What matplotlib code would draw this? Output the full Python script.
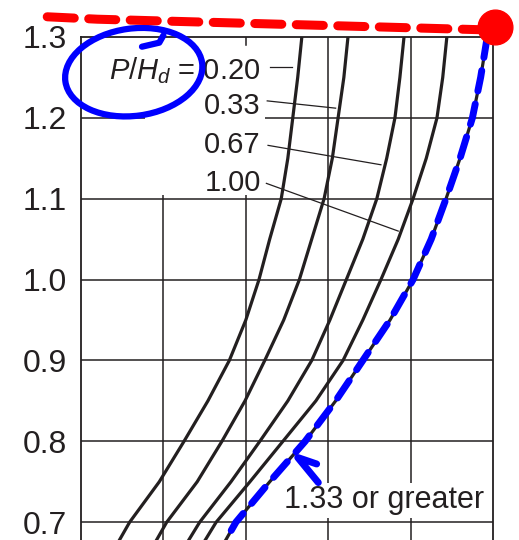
import matplotlib
matplotlib.use("Agg")
import matplotlib.pyplot as plt
from matplotlib.patches import Ellipse, Rectangle

plt.rcParams['font.family'] = ['Liberation Sans', 'DejaVu Sans']
plt.rcParams['mathtext.fontset'] = 'custom'
plt.rcParams['mathtext.it'] = 'Liberation Sans:italic'
plt.rcParams['mathtext.rm'] = 'Liberation Sans'

# Head ratio He/Hd (y) and discharge coefficient C (x)
head_ratio = [1.30, 1.25, 1.20, 1.15, 1.10, 1.05, 1.00, 0.95, 0.90, 0.85, 0.80, 0.75, 0.70, 0.675]

c_020 = [3.868, 3.863, 3.857, 3.851, 3.843, 3.829, 3.816, 3.800, 3.780, 3.754, 3.725, 3.695, 3.659, 3.645]
c_033 = [3.924, 3.919, 3.912, 3.905, 3.895, 3.880, 3.865, 3.846, 3.823, 3.799, 3.771, 3.741, 3.704, 3.690]
c_067 = [3.992, 3.987, 3.981, 3.971, 3.959, 3.942, 3.922, 3.902, 3.880, 3.851, 3.817, 3.782, 3.744, 3.729]
c_100 = [4.044, 4.039, 4.032, 4.019, 4.003, 3.985, 3.964, 3.942, 3.918, 3.885, 3.845, 3.805, 3.764, 3.749]
c_133 = [4.093, 4.085, 4.075, 4.060, 4.043, 4.025, 4.003, 3.975, 3.942, 3.909, 3.872, 3.829, 3.788, 3.774]

curves = [c_020, c_033, c_067, c_100, c_133]
y_ticks = [0.7, 0.8, 0.9, 1.0, 1.1, 1.2, 1.3]
y_tick_labels = ["0.7", "0.8", "0.9", "1.0", "1.1", "1.2", "1.3"]
x_grid = [3.7, 3.8, 3.9, 4.0]

ink = '#231f20'

fig = plt.figure(figsize=(5.19, 5.40), dpi=100)
ax = fig.add_axes([81 / 519, 0, 412 / 519, 503 / 540])
ax.set_xlim(3.6, 4.1)
ax.set_ylim(0.678, 1.3)

# grid
for yv in y_ticks[:-1]:
    ax.axhline(yv, color=ink, lw=1.1, zorder=1)
for xv in x_grid:
    ax.axvline(xv, color=ink, lw=1.1, zorder=1)

# blank area behind the labels
ax.add_patch(Rectangle((3.678, 1.1045), 0.145, 0.2, facecolor='white',
                       edgecolor='none', zorder=2))
ax.plot([3.8, 3.8], [1.3, 1.29], color=ink, lw=1.1, zorder=3)

for cv in curves:
    ax.plot(cv, head_ratio, color=ink, lw=2.3, zorder=4,
            solid_capstyle='butt', solid_joinstyle='round')

ax.set_yticks(y_ticks)
ax.set_yticklabels(y_tick_labels)
ax.set_xticks([])
ax.tick_params(axis='y', length=0, pad=10, labelsize=23, labelcolor=ink)
for side in ['left', 'right', 'top']:
    ax.spines[side].set_color(ink)
    ax.spines[side].set_linewidth(1.3)
ax.spines['bottom'].set_visible(False)

# labels and leader lines
lab_x = 3.818
ax.text(lab_x, 1.259, r"$P/H_d$ = 0.20", ha='right', va='center', fontsize=21, color=ink, zorder=5)
ax.text(lab_x, 1.215, "0.33", ha='right', va='center', fontsize=21, color=ink, zorder=5)
ax.text(lab_x, 1.166, "0.67", ha='right', va='center', fontsize=21, color=ink, zorder=5)
ax.text(lab_x, 1.119, "1.00", ha='right', va='center', fontsize=21, color=ink, zorder=5)

ax.plot([3.829, 3.856], [1.263, 1.263], color=ink, lw=0.9, zorder=5)
ax.plot([3.826, 3.909], [1.221, 1.212], color=ink, lw=0.9, zorder=5)
ax.plot([3.827, 3.964], [1.166, 1.142], color=ink, lw=0.9, zorder=5)
ax.plot([3.825, 3.985], [1.119, 1.060], color=ink, lw=0.9, zorder=5)

ax.text(3.968, 0.727, "1.33 or greater", ha='center', va='center', fontsize=22, color=ink,
        zorder=5, bbox=dict(facecolor='white', edgecolor='none', pad=2))

# hand-drawn marks
ax.plot([3.559, 3.62, 4.085], [1.325, 1.322, 1.309], color='#ff0000', lw=6.5,
        dashes=(3, 1.6), dash_capstyle='round', clip_on=False, zorder=7)
ax.plot([4.102], [1.312], 'o', color='#ff0000', markersize=25, clip_on=False, zorder=7)

ax.plot(c_133, head_ratio, color='#0000ff', lw=5, dashes=(3, 1.9),
        dash_capstyle='round', zorder=6)
ax.add_patch(Ellipse((3.664, 1.2565), 0.1675, 0.108, angle=8, fill=False,
                     edgecolor='#0000ff', lw=4.5, zorder=6, clip_on=False))
ax.plot([3.674, 3.695, 3.700], [1.288, 1.293, 1.302], color='#0000ff', lw=4.5,
        solid_capstyle='round', zorder=6, clip_on=False)
ax.plot([3.888, 3.863, 3.886], [0.749, 0.780, 0.772], color='#0000ff', lw=5,
        solid_capstyle='round', solid_joinstyle='round', zorder=6)

fig.savefig("out.png", dpi=100)
